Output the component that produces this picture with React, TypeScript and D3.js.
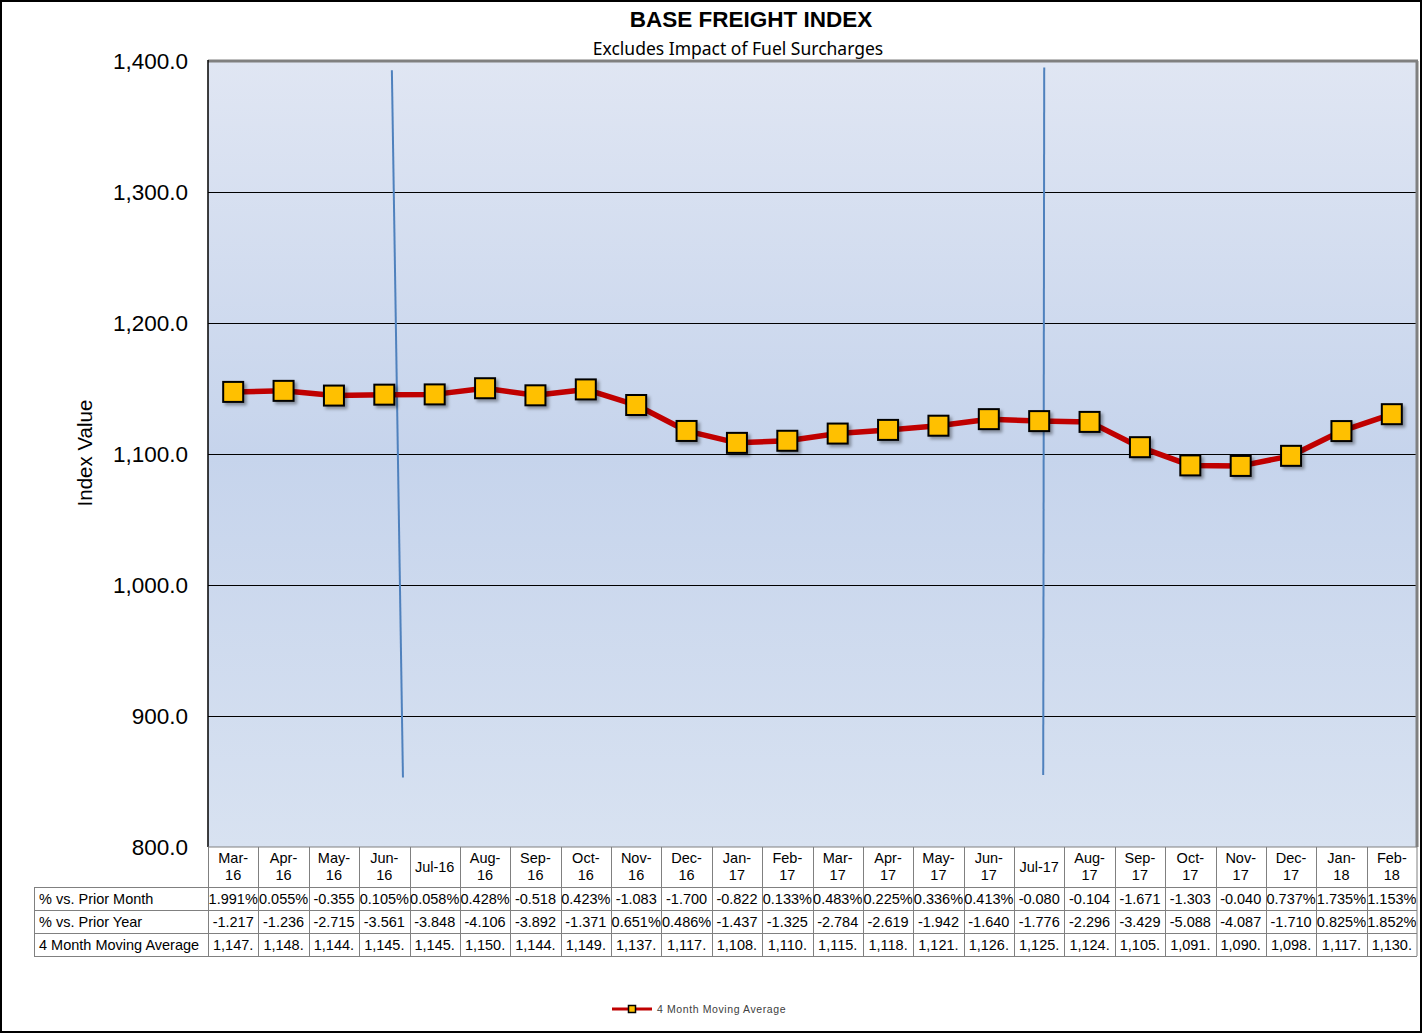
import React from "react";
import * as d3 from "d3";

const categories = ["Mar-16","Apr-16","May-16","Jun-16","Jul-16","Aug-16","Sep-16","Oct-16","Nov-16","Dec-16","Jan-17","Feb-17","Mar-17","Apr-17","May-17","Jun-17","Jul-17","Aug-17","Sep-17","Oct-17","Nov-17","Dec-17","Jan-18","Feb-18"];
const movingAverage = [1147.4,1148.2,1144.6,1145.3,1145.5,1150.2,1144.8,1149.3,1137.4,1117.6,1108.5,1110.1,1115.6,1118.4,1121.6,1126.6,1125.1,1124.5,1105.2,1091.3,1090.9,1098.6,1117.5,1130.4];
const pctPriorMonth = ["1.991%","0.055%","-0.355","0.105%","0.058%","0.428%","-0.518","0.423%","-1.083","-1.700","-0.822","0.133%","0.483%","0.225%","0.336%","0.413%","-0.080","-0.104","-1.671","-1.303","-0.040","0.737%","1.735%","1.153%"];
const pctPriorYear = ["-1.217","-1.236","-2.715","-3.561","-3.848","-4.106","-3.892","-1.371","0.651%","0.486%","-1.437","-1.325","-2.784","-2.619","-1.942","-1.640","-1.776","-2.296","-3.429","-5.088","-4.087","-1.710","0.825%","1.852%"];
const maLabels = ["1,147.","1,148.","1,144.","1,145.","1,145.","1,150.","1,144.","1,149.","1,137.","1,117.","1,108.","1,110.","1,115.","1,118.","1,121.","1,126.","1,125.","1,124.","1,105.","1,091.","1,090.","1,098.","1,117.","1,130."];
const rowLabels = ["% vs. Prior Month","% vs. Prior Year","4 Month Moving Average"];
const yTicks = [800,900,1000,1100,1200,1300,1400];
// annotation lines: category index offset (fraction of band) and value
const annotations = [
  { cat: "Jun-16", top: 1393, bottom: 853, dTop: 0.65, dBottom: 0.87 },
  { cat: "Jul-17", top: 1395, bottom: 855, dTop: 0.6, dBottom: 0.58 },
];

const W = 1423, H = 1034;
const L = 208, R = 1417, T = 61, B = 847;

export default function App() {
  const x = d3.scaleBand().domain(categories).range([L, R]).padding(0);
  const y = d3.scaleLinear().domain([800, 1400]).range([B, T]);
  const bw = x.bandwidth();
  const cx = (c: string) => (x(c) as number) + bw / 2;
  const line = d3.line<number>().x((_, i) => cx(categories[i])).y((d) => y(d));
  const rows = [pctPriorMonth, pctPriorYear, maLabels];
  const rowTop = 887, rowH = 23;
  const tableLeft = 34;
  const font = "'Liberation Sans', Arial, sans-serif";
  const px = (v: number) => Math.round(v) + 0.5;
  return (
    <svg width={W} height={H} style={{ position: "absolute", left: 0, top: 0 }} fontFamily={font}>
      <defs>
        <linearGradient id="bg" x1="0" y1="0" x2="0" y2="1">
          <stop offset="0" stopColor="#e0e6f3" />
          <stop offset="0.5" stopColor="#c6d4ec" />
          <stop offset="1" stopColor="#d8e2f1" />
        </linearGradient>
        <filter id="sh" x="-50%" y="-50%" width="200%" height="200%">
          <feDropShadow dx="2.5" dy="2.5" stdDeviation="1.5" floodColor="#000" floodOpacity="0.35" />
        </filter>
      </defs>
      <rect x={0} y={0} width={W} height={H} fill="#fff" />
      <rect x={1} y={1} width={1420} height={1031} fill="none" stroke="#000" strokeWidth={2} />
      <text x={751} y={27} textAnchor="middle" fontSize={22.5} fontWeight="bold">BASE FREIGHT INDEX</text>
      <text x={738} y={55} textAnchor="middle" fontSize={17.5} fontFamily="'Noto Sans', sans-serif">Excludes Impact of Fuel Surcharges</text>

      <rect x={L} y={T} width={R - L} height={B - T} fill="url(#bg)" />
      {yTicks.filter((t) => t > 800 && t < 1400).map((t) => (
        <line key={t} x1={L} x2={R} y1={px(y(t))} y2={px(y(t))} stroke="#000" strokeWidth={1} />
      ))}
      <line x1={L} x2={R + 1} y1={T} y2={T} stroke="#808080" strokeWidth={3} />
      <line x1={R} x2={R} y1={T} y2={B} stroke="#808080" strokeWidth={3} />
      <line x1={L} x2={L} y1={T - 1} y2={B} stroke="#000" strokeWidth={1.5} />
      {yTicks.map((t) => (
        <text key={t} x={188} y={y(t) + 8} textAnchor="end" fontSize={22.5}>{d3.format(",.1f")(t)}</text>
      ))}
      <text transform={`translate(92,${453}) rotate(-90)`} textAnchor="middle" fontSize={20.5}>Index Value</text>

      {annotations.map((a, i) => (
        <line key={i} x1={(x(a.cat) as number) + bw * a.dTop} y1={y(a.top)} x2={(x(a.cat) as number) + bw * a.dBottom} y2={y(a.bottom)} stroke="#4f81bd" strokeWidth={2} />
      ))}

      <path d={line(movingAverage) || ""} fill="none" stroke="#c00000" strokeWidth={5.5} strokeLinejoin="round" />
      {movingAverage.map((v, i) => (
        <rect key={i} x={cx(categories[i]) - 10} y={y(v) - 10} width={20} height={20} fill="#ffc000" stroke="#000" strokeWidth={2} filter="url(#sh)" />
      ))}

      {/* data table */}
      <g fontSize={14.5} fill="#000">
        <line x1={L} x2={R} y1={B} y2={B} stroke="#808080" strokeWidth={1} />
        {categories.map((c, i) => {
          const parts = c.split("-");
          const single = c.startsWith("Jul");
          const xl = px(x(c) as number);
          return (
            <g key={c}>
              <line x1={xl} x2={xl} y1={B} y2={rowTop + rowH * 3} stroke="#808080" />
              {single ? (
                <text x={cx(c)} y={872} textAnchor="middle">{c}</text>
              ) : (
                <text textAnchor="middle">
                  <tspan x={cx(c)} y={863}>{parts[0] + "-"}</tspan>
                  <tspan x={cx(c)} y={880}>{parts[1]}</tspan>
                </text>
              )}
              {rows.map((r, j) => (
                <text key={j} x={cx(c)} y={rowTop + rowH * j + 17} textAnchor="middle">{r[i]}</text>
              ))}
            </g>
          );
        })}
        <line x1={R} x2={R} y1={B} y2={rowTop + rowH * 3} stroke="#808080" />
        <line x1={tableLeft + 0.5} x2={tableLeft + 0.5} y1={rowTop} y2={rowTop + rowH * 3} stroke="#808080" />
        {[0, 1, 2, 3].map((j) => (
          <line key={j} x1={tableLeft} x2={R} y1={rowTop + rowH * j + 0.5} y2={rowTop + rowH * j + 0.5} stroke="#808080" />
        ))}
        {rowLabels.map((l, j) => (
          <text key={l} x={tableLeft + 5} y={rowTop + rowH * j + 17}>{l}</text>
        ))}
      </g>

      {/* legend */}
      <line x1={612} x2={652} y1={1009} y2={1009} stroke="#c00000" strokeWidth={3} />
      <rect x={628.5} y={1005.5} width={7} height={7} fill="#ffc000" stroke="#000" strokeWidth={1.5} />
      <text x={657} y={1013} fontSize={10.5} letterSpacing={0.6} fill="#404040">4 Month Moving Average</text>
    </svg>
  );
}
